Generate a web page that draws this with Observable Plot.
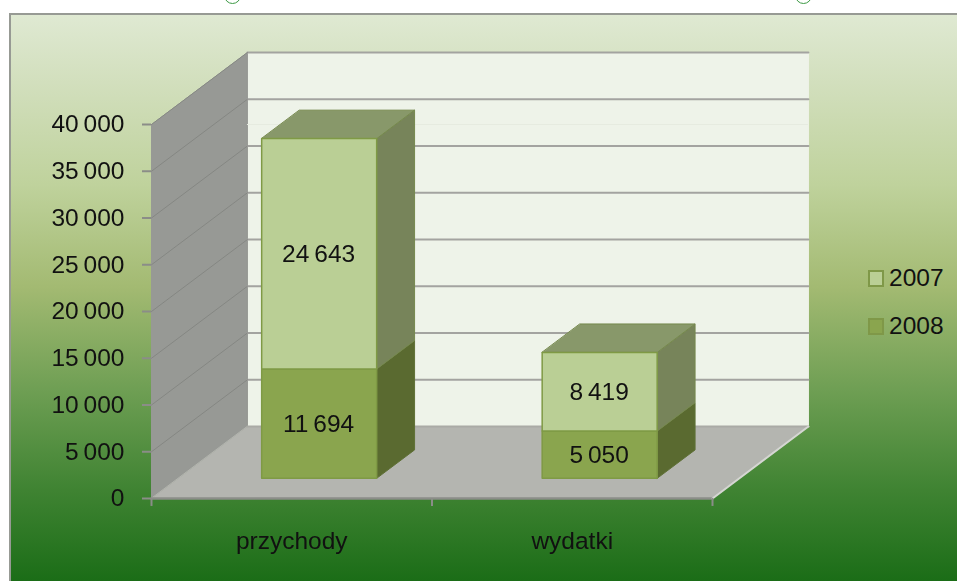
<!DOCTYPE html>
<html>
<head>
<meta charset="utf-8">
<script src="https://cdn.jsdelivr.net/npm/d3@7"></script>
<script src="https://cdn.jsdelivr.net/npm/@observablehq/plot@0.6"></script>
<style>
html,body{margin:0;padding:0;background:#fff;overflow:hidden}
#page{position:relative;width:957px;height:581px;overflow:hidden;font-family:"Liberation Sans",sans-serif}
#frame{position:absolute;left:9px;top:13px;right:0;bottom:0;border-top:2px solid #979a94;border-left:2px solid #979a94;
background:linear-gradient(180deg,#dfe9d2 0%,#d2dfbd 12%,#bfd29c 30%,#a3ba72 48%,#6f9f54 66%,#3f8332 84%,#1b6d17 100%)}
#chart{position:absolute;left:0;top:0;filter:blur(.35px)}
.arc{position:absolute;width:15px;height:15px;border:1px solid #3d9a45;border-radius:50%;top:-13px}
.lg{position:absolute;left:868px;display:flex;align-items:center;font-size:24.5px;color:#111;height:18px}
.lg i{display:block;width:12px;height:13px;border:2px solid #7f9848;margin-right:5px}
</style>
</head>
<body>
<div id="page">
  <div class="arc" style="left:224px"></div>
  <div class="arc" style="left:795px"></div>
  <div id="frame"></div>
  <div id="chart"></div>
  <div class="lg" style="top:269px"><i style="background:#bacf95"></i>2007</div>
  <div class="lg" style="top:317px"><i style="background:#8aa54e"></i>2008</div>
</div>
<script>
const categories = ["przychody", "wydatki"];
const values2008 = [11694, 5050];
const values2007 = [24643, 8419];
const yTicks = [0, 5000, 10000, 15000, 20000, 25000, 30000, 35000, 40000];

const fmt = v => d3.format(",")(v).replace(/,/g, "\u2009");
const fontSize = 24.5;

// oblique projection: category position, value, depth (0 front .. 1 back)
const depthX = 0.342, depthV = 7700;
const P = (c, v, d) => ({x: c + d * depthX, y: v + d * depthV});
const face = (pts, fill, stroke, strokeWidth = 1) =>
  Plot.line(pts.map(p => P(...p)), {x: "x", y: "y", fill, stroke: stroke || fill, strokeWidth, curve: "linear-closed"});

const gridColor = "#a3a3a0";
const marks = [
  // walls and floor
  face([[0,0,1],[2,0,1],[2,40000,1],[0,40000,1]], "#eef3e9", "#eef3e9"),
  face([[0,0,0],[0,40000,0],[0,40000,1],[0,0,1]], "#979995", "#979995"),
  face([[0,0,0],[2,0,0],[2,0,1],[0,0,1]], "#b4b5b0", "#b4b5b0"),
  Plot.ruleY([40000], {x1: 0 + depthX, x2: 2 + depthX, stroke: "#e6ebe0", strokeWidth: 1}),
  // grid
  ...yTicks.filter(v => v > 0).map(v =>
    Plot.line([P(0, v, 1), P(2, v, 1)], {x: "x", y: "y", stroke: gridColor, strokeWidth: 2})),
  ...yTicks.filter(v => v > 0).map(v =>
    Plot.line([P(0, v, 0), P(0, v, 1)], {x: "x", y: "y", stroke: "#858783", strokeWidth: 1})),
  Plot.line([P(0, 0, 1), P(2, 0, 1)], {x: "x", y: "y", stroke: "#a9aaa5", strokeWidth: 2}),
  // front axis line
  Plot.line([P(0, 0, 0), P(2, 0, 0)], {x: "x", y: "y", stroke: "#8b8d88", strokeWidth: 2.5}),
  Plot.line([P(2, 0, 0), P(2, 0, 1)], {x: "x", y: "y", stroke: "#d5d6d2", strokeWidth: 2})
];

// stacked 3D columns
const barHalf = 0.205, d0 = 0.28, d1 = 0.675;
categories.forEach((cat, i) => {
  const c = i + 0.5 + 0.002;
  const l = c - barHalf, r = c + barHalf;
  const a = values2008[i], b = a + values2007[i];
  // 2008 side + front
  marks.push(face([[r,0,d0],[r,0,d1],[r,a,d1],[r,a,d0]], "#5a6a30", "#5f7036"));
  marks.push(face([[l,0,d0],[r,0,d0],[r,a,d0],[l,a,d0]], "#8aa54e", "#7f9a45", 1.5));
  // 2007 side, top, front
  marks.push(face([[r,a,d0],[r,a,d1],[r,b,d1],[r,b,d0]], "#77845a", "#76894e"));
  marks.push(face([[l,b,d0],[r,b,d0],[r,b,d1],[l,b,d1]], "#88986a", "#76894e"));
  marks.push(face([[l,a,d0],[r,a,d0],[r,b,d0],[l,b,d0]], "#bacf95", "#7f9a45", 1.5));
});

// data labels
const labelRows = categories.flatMap((cat, i) => [
  {...P(i + 0.5, values2008[i] / 2, d0), t: fmt(values2008[i])},
  {...P(i + 0.5, values2008[i] + values2007[i] / 2, d0), t: fmt(values2007[i])}
]);
marks.push(Plot.text(labelRows, {x: "x", y: "y", text: "t", fontSize, fill: "#111", lineAnchor: "middle"}));

// axes
marks.push(Plot.axisY({ticks: yTicks, tickSize: 9, tickPadding: 18, tickFormat: fmt, label: null,
  anchor: "left", fontSize, stroke: "#8b8d88", strokeWidth: 2, color: "#111", x: 0}));
marks.push(Plot.ruleX([0, 1, 2], {y1: 0, y2: -850, stroke: "#8b8d88", strokeWidth: 2}));
marks.push(Plot.text(categories.map((name, i) => ({name, c: i + 0.5, v: -4600})), {x: "c", y: "v", text: "name", fontSize, fill: "#111"}));

const chart = Plot.plot({
  width: 957, height: 581,
  marginTop: 0, marginBottom: 0, marginLeft: 0, marginRight: 0,
  style: {background: "transparent", fontFamily: '"Liberation Sans", sans-serif', overflow: "visible"},
  x: {type: "linear", domain: [0, 2], range: [151, 712], axis: null},
  y: {type: "linear", domain: [0, 40000], range: [498, 124], axis: null},
  marks
});
document.getElementById("chart").append(chart);
</script>
</body>
</html>
